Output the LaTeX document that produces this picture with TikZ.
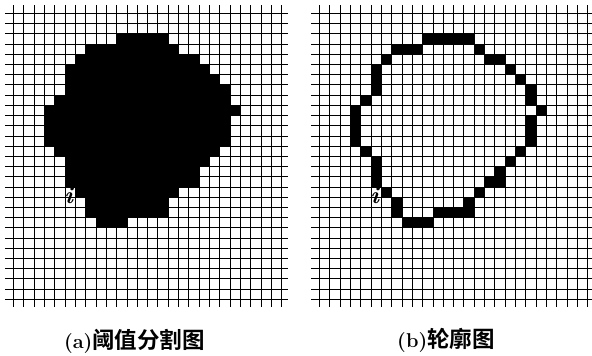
\documentclass[tikz,border=0pt]{standalone}
\usepackage{fontspec}
\newfontfamily\cjk{Noto Sans CJK SC}[BoldFont={Noto Sans CJK SC Bold}]
\begin{document}
\begin{tikzpicture}[x=1pt,y=-1pt,
  gridline/.style={line width=1.2pt,draw=black},
  cell/.style={fill=black},
  caption/.style={font=\fontsize{20}{24}\selectfont\bfseries,inner sep=0pt},
  plabel/.style={font=\fontsize{24}{26}\selectfont\bfseries\itshape,inner sep=0pt}]
\useasboundingbox (0,0) rectangle (592,356);
\def\dx{10.32}
\def\dy{10.21}
\def\oy{13}
% ---------- (a) thresholded region ----------
\def\ox{13}
\foreach \r/\a/\b in {2/10/14,3/7/15,4/6/17,5/5/18,6/5/19,7/5/20,8/4/20,9/3/21,
  10/3/20,11/3/20,12/3/20,13/4/19,14/5/18,15/5/17,16/5/17,17/6/15,18/7/14,19/7/14,20/8/10}
  \fill[cell] ({round(\ox+\a*\dx)+0.5},{round(\oy+\r*\dy)+0.5}) rectangle ({round(\ox+(\b+1)*\dx)+0.5},{round(\oy+(\r+1)*\dy)+0.5});
\foreach \k in {0,...,26}
  \draw[gridline] ({round(\ox+\k*\dx)+0.5},5) -- ({round(\ox+\k*\dx)+0.5},306.5);
\foreach \j in {0,...,28}
  \draw[gridline] ({\ox-8},{round(\oy+\j*\dy)+0.5}) -- ({\ox+26*\dx+6.5},{round(\oy+\j*\dy)+0.5});
\node[plabel] (ia) at ({\ox+5.5*\dx-1},{\oy+17.9*\dy}) {i};
\node[caption] (capa) at (134.5,341) {(a)\fontsize{22.5}{24}\cjk\bfseries 阈值分割图};
% ---------- (b) contour ----------
\def\ox{319}
\foreach \r/\c in {2/10,2/11,2/12,2/13,2/14,3/7,3/8,3/9,3/15,4/6,4/16,4/17,5/5,5/18,
  6/5,6/19,7/5,7/20,8/4,8/20,9/3,9/21,10/3,10/20,11/3,11/20,12/3,12/20,13/4,13/19,
  14/5,14/18,15/5,15/17,16/5,16/16,16/17,17/6,17/15,18/7,18/14,19/7,19/11,19/12,19/13,19/14,
  20/8,20/9,20/10}
  \fill[cell] ({round(\ox+\c*\dx)+0.5},{round(\oy+\r*\dy)+0.5}) rectangle ({round(\ox+(\c+1)*\dx)+0.5},{round(\oy+(\r+1)*\dy)+0.5});
\foreach \k in {0,...,26}
  \draw[gridline] ({round(\ox+\k*\dx)+0.5},5) -- ({round(\ox+\k*\dx)+0.5},306.5);
\foreach \j in {0,...,28}
  \draw[gridline] ({\ox-8},{round(\oy+\j*\dy)+0.5}) -- (592,{round(\oy+\j*\dy)+0.5});
\node[plabel] (ib) at ({\ox+5.5*\dx-1},{\oy+17.9*\dy}) {i};
\node[caption] (capb) at (446,340.5) {(b)\fontsize{22.5}{24}\cjk\bfseries 轮廓图};
\end{tikzpicture}
\end{document}
